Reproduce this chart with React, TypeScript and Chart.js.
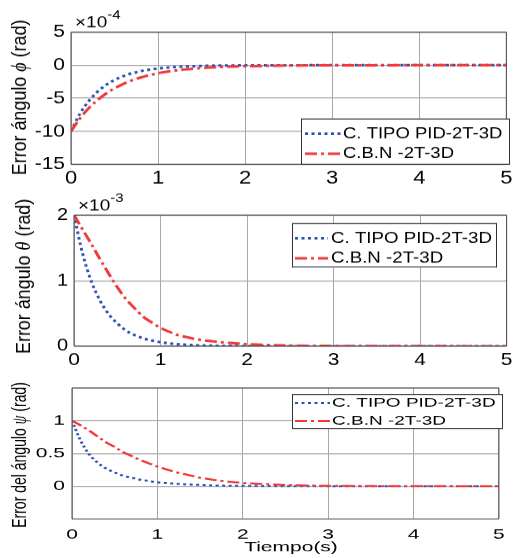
import React, { useEffect, useRef } from "react";
import { Chart, registerables } from "chart.js";

Chart.register(...registerables);

// ---------- data ----------
const TIME = [0, 0.1, 0.2, 0.3, 0.4, 0.5, 0.6, 0.7, 0.8, 0.9, 1.0, 1.1, 1.2, 1.3, 1.4, 1.5, 1.6, 1.7, 1.8, 1.9, 2.0, 2.5, 3, 3.5, 4, 4.5, 5];

// phi error, units of 1e-4 rad
const PHI_PID = [-10, -7.41, -5.49, -4.07, -3.01, -2.23, -1.65, -1.22, -0.91, -0.67, -0.5, -0.37, -0.27, -0.2, -0.15, -0.11, -0.08, -0.06, -0.05, -0.03, -0.02, -0.01, 0, 0, 0, 0, 0];
const PHI_BN = [-10, -8.1, -6.57, -5.33, -4.32, -3.5, -2.84, -2.3, -1.86, -1.51, -1.22, -0.99, -0.8, -0.65, -0.53, -0.43, -0.35, -0.28, -0.23, -0.18, -0.15, -0.05, -0.02, -0.01, 0, 0, 0];

// theta error, units of 1e-3 rad
const THETA_PID = [2.0, 1.41, 0.99, 0.7, 0.49, 0.35, 0.24, 0.17, 0.12, 0.086, 0.06, 0.043, 0.03, 0.021, 0.015, 0.01, 0.007, 0.005, 0.004, 0.003, 0.002, 0, 0, 0, 0, 0, 0];
const THETA_BN = [2.0, 1.78, 1.56, 1.33, 1.11, 0.9, 0.72, 0.58, 0.45, 0.36, 0.28, 0.22, 0.17, 0.14, 0.11, 0.09, 0.075, 0.06, 0.05, 0.04, 0.03, 0.01, 0.004, 0.002, 0.001, 0, 0];

// psi error, rad
const PSI_PID = [1.0, 0.7, 0.49, 0.36, 0.27, 0.21, 0.16, 0.13, 0.1, 0.08, 0.06, 0.05, 0.04, 0.03, 0.025, 0.02, 0.015, 0.012, 0.01, 0.008, 0.006, 0.002, 0, 0, 0, 0, 0];
const PSI_BN = [1.0, 0.93, 0.85, 0.76, 0.67, 0.6, 0.52, 0.46, 0.4, 0.35, 0.3, 0.26, 0.22, 0.19, 0.16, 0.13, 0.11, 0.09, 0.075, 0.06, 0.05, 0.02, 0.008, 0.003, 0.001, 0, 0];

const SERIES_NAMES = ["C. TIPO PID-2T-3D", "C.B.N -2T-3D"];
const X_TICK_STEP = 1;
const PHI_TICKS = { min: -15, max: 5, step: 5 };
const THETA_TICKS = { min: 0, max: 2, step: 1 };
const PSI_TICKS = { min: -0.5, max: 1.5, values: [0, 0.5, 1] };

// ---------- style ----------
const FONT = "'Liberation Sans', Arial, Helvetica, sans-serif";
const GREEK_FONT = "'Liberation Serif', 'DejaVu Serif', serif";
const BLUE = "#2d52b4";
const RED = "#f03a3a";
const GRID = "#a8a8a8";
const FRAME = "#4a4a4a";
const BLUE_DASH = [3, 3.5];
const RED_DASH = [12, 4, 3, 4];
const W = 516;

// All vertical positions below are in page pixels relative to the panel top;
// sy is the vertical squash applied to the panel (the reference is squashed).
type Cfg = {
  pageTop: number;
  H: number;
  sy: number;
  area: { l: number; r: number; t: number; b: number };
  yMin: number;
  yMax: number;
  yStep?: number;
  yValues?: number[];
  yTickSize: number;
  xTickSize: number;
  yPad: number;
  xPad: number;
  title: string[];
  titleX: number;
  titleY: number;
  titleSize: number;
  exp?: { base: string; sup: string; x: number; y: number; size: number; supSize: number; supY: number };
  legend: { x: number; y: number; w: number; h: number; rows: number[]; s0: number; s1: number; tx: number; size: number };
  xTitle?: { text: string; x: number; y: number; size: number };
  lw: number;
  pid: number[];
  bn: number[];
};

function drawRotatedTitle(ctx: CanvasRenderingContext2D, parts: string[], cx: number, cy: number, size: number) {
  ctx.save();
  ctx.translate(cx, cy);
  ctx.rotate(-Math.PI / 2);
  const fonts = parts.map((_, i) => (i === 1 ? `italic ${size}px ${GREEK_FONT}` : `${size}px ${FONT}`));
  const widths = parts.map((p, i) => {
    ctx.font = fonts[i];
    return ctx.measureText(p).width;
  });
  const total = widths.reduce((a, b) => a + b, 0);
  let x = -total / 2;
  ctx.textBaseline = "middle";
  ctx.textAlign = "left";
  ctx.fillStyle = "#000";
  parts.forEach((p, i) => {
    ctx.font = fonts[i];
    ctx.fillText(p, x, 0);
    x += widths[i];
  });
  ctx.restore();
}

function buildChart(canvas: HTMLCanvasElement, cfg: Cfg) {
  const k = 1 / cfg.sy;
  const Y = (v: number) => v * k;
  const area = { l: cfg.area.l, r: cfg.area.r, t: Y(cfg.area.t), b: Y(cfg.area.b) };
  const H = Y(cfg.H);
  const hLW = k;

  const decor = {
    id: "decor",
    afterDraw(chart: any) {
      const ctx: CanvasRenderingContext2D = chart.ctx;
      const ca = chart.chartArea;
      ctx.save();
      // frame (box)
      ctx.strokeStyle = FRAME;
      ctx.lineWidth = hLW;
      ctx.beginPath();
      ctx.moveTo(ca.left, ca.top);
      ctx.lineTo(ca.right, ca.top);
      ctx.moveTo(ca.left, ca.bottom);
      ctx.lineTo(ca.right, ca.bottom);
      ctx.stroke();
      ctx.lineWidth = 1;
      ctx.beginPath();
      ctx.moveTo(ca.left, ca.top);
      ctx.lineTo(ca.left, ca.bottom);
      ctx.moveTo(ca.right, ca.top);
      ctx.lineTo(ca.right, ca.bottom);
      ctx.stroke();

      // legend
      const lg = cfg.legend;
      const ly = Y(lg.y);
      const lh = Y(lg.h);
      ctx.fillStyle = "#fff";
      ctx.fillRect(lg.x, ly, lg.w, lh);
      ctx.strokeStyle = "#333";
      ctx.lineWidth = 1;
      ctx.beginPath();
      ctx.moveTo(lg.x + 0.5, ly);
      ctx.lineTo(lg.x + 0.5, ly + lh);
      ctx.moveTo(lg.x + lg.w - 0.5, ly);
      ctx.lineTo(lg.x + lg.w - 0.5, ly + lh);
      ctx.stroke();
      ctx.lineWidth = hLW;
      ctx.beginPath();
      ctx.moveTo(lg.x, ly + hLW / 2);
      ctx.lineTo(lg.x + lg.w, ly + hLW / 2);
      ctx.moveTo(lg.x, ly + lh - hLW / 2);
      ctx.lineTo(lg.x + lg.w, ly + lh - hLW / 2);
      ctx.stroke();
      const styles = [
        { c: BLUE, d: BLUE_DASH },
        { c: RED, d: RED_DASH },
      ];
      lg.rows.forEach((ryPage, i) => {
        const ry = Y(ryPage);
        ctx.save();
        ctx.strokeStyle = styles[i].c;
        ctx.lineWidth = cfg.lw;
        ctx.setLineDash(styles[i].d);
        ctx.beginPath();
        ctx.moveTo(lg.s0, ry);
        ctx.lineTo(lg.s1, ry);
        ctx.stroke();
        ctx.restore();
        ctx.fillStyle = "#000";
        ctx.font = `${lg.size}px ${FONT}`;
        ctx.textAlign = "left";
        ctx.textBaseline = "middle";
        ctx.fillText(SERIES_NAMES[i], lg.tx, ry);
      });

      // exponent label
      if (cfg.exp) {
        const e = cfg.exp;
        ctx.fillStyle = "#000";
        ctx.textAlign = "left";
        ctx.textBaseline = "alphabetic";
        ctx.font = `${e.size}px ${FONT}`;
        ctx.fillText(e.base, e.x, Y(e.y));
        const bw = ctx.measureText(e.base).width;
        ctx.font = `${e.supSize}px ${FONT}`;
        ctx.fillText(e.sup, e.x + bw, Y(e.supY));
      }

      // y title
      drawRotatedTitle(ctx, cfg.title, cfg.titleX, Y(cfg.titleY), cfg.titleSize);

      // x title
      if (cfg.xTitle) {
        ctx.fillStyle = "#000";
        ctx.font = `${cfg.xTitle.size}px ${FONT}`;
        ctx.textAlign = "center";
        ctx.textBaseline = "alphabetic";
        ctx.fillText(cfg.xTitle.text, cfg.xTitle.x, Y(cfg.xTitle.y));
      }
      ctx.restore();
    },
  };

  const mk = (arr: number[]) => TIME.map((t, i) => ({ x: t, y: arr[i] }));

  return new Chart(canvas, {
    type: "line",
    data: {
      datasets: [
        {
          label: SERIES_NAMES[1],
          data: mk(cfg.bn),
          borderColor: RED,
          borderWidth: cfg.lw,
          borderDash: RED_DASH,
          pointRadius: 0,
          fill: false,
          cubicInterpolationMode: "monotone",
        },
        {
          label: SERIES_NAMES[0],
          data: mk(cfg.pid),
          borderColor: BLUE,
          borderWidth: cfg.lw,
          borderDash: BLUE_DASH,
          pointRadius: 0,
          fill: false,
          cubicInterpolationMode: "monotone",
        },
      ],
    },
    options: {
      responsive: false,
      animation: false,
      events: [],
      layout: { padding: { top: area.t, right: W - area.r, left: 0, bottom: 0 } },
      plugins: { legend: { display: false }, tooltip: { enabled: false } },
      scales: {
        x: {
          type: "linear",
          min: 0,
          max: 5,
          ticks: {
            stepSize: X_TICK_STEP,
            color: "#000",
            font: { family: FONT, size: cfg.xTickSize },
            padding: Y(cfg.xPad),
            maxRotation: 0,
            autoSkip: false,
          },
          grid: { color: GRID, lineWidth: 1, drawTicks: false },
          border: { display: false },
          afterFit: (s: any) => {
            s.height = H - area.b;
          },
        },
        y: {
          type: "linear",
          min: cfg.yMin,
          max: cfg.yMax,
          ticks: {
            stepSize: cfg.yStep,
            color: "#000",
            font: { family: FONT, size: cfg.yTickSize },
            padding: cfg.yPad,
            callback: (v: any) => `${v}`,
          },
          grid: { color: GRID, lineWidth: hLW, drawTicks: false },
          border: { display: false },
          afterBuildTicks: cfg.yValues
            ? (s: any) => {
                s.ticks = cfg.yValues!.map((v) => ({ value: v }));
              }
            : undefined,
          afterFit: (s: any) => {
            s.width = area.l;
          },
        },
      },
    },
    plugins: [decor],
  } as any);
}

const PANELS: Cfg[] = [
  {
    pageTop: 0,
    H: 190,
    sy: 0.85,
    area: { l: 71, r: 510, t: 32, b: 164 },
    yMin: PHI_TICKS.min,
    yMax: PHI_TICKS.max,
    yStep: PHI_TICKS.step,
    yTickSize: 21,
    xTickSize: 22,
    yPad: 6,
    xPad: 3,
    title: ["Error ángulo ", "ϕ", " (rad)"],
    titleX: 20,
    titleY: 97,
    titleSize: 21,
    exp: { base: "×10", sup: "-4", x: 75, y: 27, size: 19, supSize: 15, supY: 19 },
    legend: { x: 301, y: 118, w: 209, h: 46, rows: [133, 153], s0: 305, s1: 341, tx: 343, size: 18.5 },
    lw: 3,
    pid: PHI_PID,
    bn: PHI_BN,
  },
  {
    pageTop: 190,
    H: 185,
    sy: 0.85,
    area: { l: 74, r: 507, t: 25, b: 156 },
    yMin: THETA_TICKS.min,
    yMax: THETA_TICKS.max,
    yStep: THETA_TICKS.step,
    yTickSize: 20,
    xTickSize: 21,
    yPad: 6,
    xPad: 3,
    title: ["Error ángulo ", "θ", " (rad)"],
    titleX: 24,
    titleY: 86,
    titleSize: 21,
    exp: { base: "×10", sup: "-3", x: 78, y: 20, size: 19, supSize: 15, supY: 12 },
    legend: { x: 292, y: 33, w: 205, h: 44, rows: [48, 68], s0: 295, s1: 328, tx: 331, size: 18.7 },
    lw: 3,
    pid: THETA_PID,
    bn: THETA_BN,
  },
  {
    pageTop: 370,
    H: 188,
    sy: 2 / 3,
    area: { l: 72, r: 510, t: 18, b: 149 },
    yMin: PSI_TICKS.min,
    yMax: PSI_TICKS.max,
    yValues: PSI_TICKS.values,
    yTickSize: 21,
    xTickSize: 21,
    yPad: 7,
    xPad: 7.5,
    title: ["Error del ángulo ", "ψ", " (rad)"],
    titleX: 20,
    titleY: 85,
    titleSize: 21,
    legend: { x: 292, y: 24, w: 211, h: 35, rows: [33, 51], s0: 295, s1: 330, tx: 332, size: 19 },
    xTitle: { text: "Tiempo(s)", x: 291, y: 181, size: 21 },
    lw: 3,
    pid: PSI_PID,
    bn: PSI_BN,
  },
];

function Panel({ cfg }: { cfg: Cfg }) {
  const ref = useRef<HTMLCanvasElement | null>(null);
  const h = cfg.H / cfg.sy;
  useEffect(() => {
    const chart = buildChart(ref.current!, cfg);
    return () => chart.destroy();
  }, [cfg]);
  return (
    <canvas
      ref={ref}
      width={W}
      height={h}
      style={{
        position: "absolute",
        left: 0,
        top: cfg.pageTop,
        width: W,
        height: h,
        transform: `scaleY(${cfg.sy})`,
        transformOrigin: "0 0",
      }}
    />
  );
}

export default function App() {
  return (
    <div style={{ position: "absolute", left: 0, top: 0, width: W, height: 558, background: "#fff", overflow: "hidden" }}>
      {PANELS.map((p, i) => (
        <Panel key={i} cfg={p} />
      ))}
    </div>
  );
}
